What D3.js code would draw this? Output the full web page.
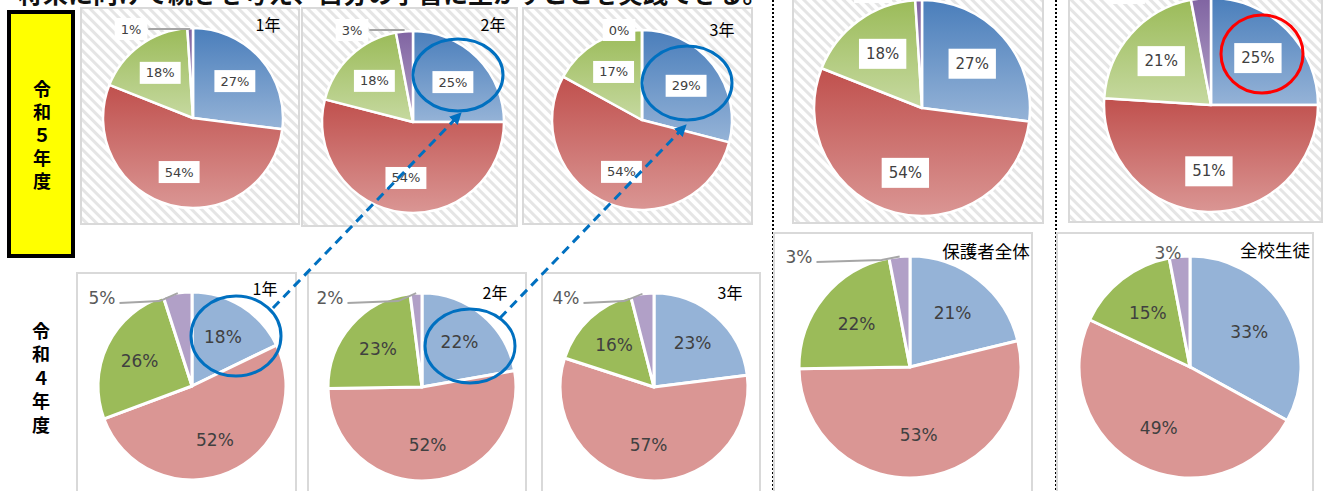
<!DOCTYPE html>
<html><head><meta charset="utf-8">
<script src="https://cdn.jsdelivr.net/npm/d3@7"></script>
<style>
html,body{margin:0;padding:0;background:#fff;overflow:hidden;}
svg{display:block;}
</style></head>
<body>
<svg id="chart" width="1330" height="491"></svg>
<script>
// ---------- DATA ----------
const answerKeys = ["回答A", "回答B", "回答C", "回答D"]; // blue, red, green, purple
const panelTitles = ["1年", "2年", "3年", "保護者全体", "全校生徒"];
const rowLabels = ["令和５年度", "令和４年度"];
const headline = "将来に向けて続きを考え、自分の学習に生かすことを実践できる。";

const r5Grade1   = [27, 54, 18, 1];
const r5Grade2   = [25, 54, 18, 3];
const r5Grade3   = [29, 54, 17, 0];
const r5Guardian = [27, 54, 18, 1];
const r5AllStud  = [25, 51, 21, 3];

const r4Grade1   = [18, 52, 26, 5];
const r4Grade2   = [22, 52, 23, 2];
const r4Grade3   = [23, 57, 16, 4];
const r4Guardian = [21, 53, 22, 3];
const r4AllStud  = [33, 49, 15, 3];

// ---------- LAYOUT / STYLE ----------
const gradColors = [["#4A7EBB", "#95B3D7"], ["#C0504D", "#DA9694"], ["#9BBB59", "#C6D9A0"], ["#8064A2", "#B3A2C7"]];
const flatColors = ["#95B3D7", "#DA9694", "#9BBB59", "#B1A0C7"];

const panels = [
  {data: r5Grade1,   title: panelTitles[0], box: [81, 8, 218, 216],  c: [193, 118], r: 90,  style: "grad", fs: 13, tfs: 16, out: {dx: -62, dy: 1, leader: true},  tpos: [268, 31]},
  {data: r5Grade2,   title: panelTitles[1], box: [302, 8, 215, 218], c: [413, 122], r: 91,  style: "grad", fs: 13, tfs: 16, out: {dx: -61, dy: -1, leader: true}, tpos: [493, 31], ell: {dx: 45, dy: -47, rx: 45, ry: 36, color: "#0070C0"}},
  {data: r5Grade3,   title: panelTitles[2], box: [523, 8, 229, 216], c: [642, 120], r: 90,  style: "grad", fs: 13, tfs: 16, out: {dx: -23, dy: 0, leader: false}, tpos: [722, 36], ell: {dx: 45, dy: -37, rx: 45, ry: 37, color: "#0070C0"}},
  {data: r5Guardian, title: null,           box: [793, -5, 250, 228], c: [922, 108], r: 108, style: "grad", fs: 15, out: {dx: -49, dy: -12, leader: false}},
  {data: r5AllStud,  title: null,           box: [1069, -5, 253, 227], c: [1211, 105], r: 107, style: "grad", fs: 15, out: {dx: -85, dy: -9, leader: false}, ell: {dx: 51, dy: -51, rx: 41, ry: 39, color: "#FF0000"}},
  {data: r4Grade1,   title: panelTitles[0], box: [77, 273, 219, 230], c: [192, 386], r: 94,  style: "flat", fs: 17, tfs: 16, out: {dx: -90, dy: 6, leader: true},  tpos: [265, 295], ell: {dx: 44, dy: -50, rx: 45, ry: 40, color: "#0070C0"}},
  {data: r4Grade2,   title: panelTitles[1], box: [308, 273, 218, 230], c: [422, 387], r: 94, style: "flat", fs: 17, tfs: 16, out: {dx: -92, dy: 5, leader: true},  tpos: [495, 299], ell: {dx: 48, dy: -41, rx: 45, ry: 37, color: "#0070C0"}},
  {data: r4Grade3,   title: panelTitles[2], box: [542, 273, 218, 230], c: [654, 387], r: 94, style: "flat", fs: 17, tfs: 16, out: {dx: -88, dy: 5, leader: true},  tpos: [730, 299]},
  {data: r4Guardian, title: panelTitles[3], box: [774, 233, 258, 270], c: [910, 367], r: 111, style: "flat", fs: 17, tfs: 17.5, out: {dx: -111, dy: 1, leader: true}, tpos: [986, 258]},
  {data: r4AllStud,  title: panelTitles[4], box: [1057, 233, 256, 270], c: [1190, 367], r: 111, style: "flat", fs: 17, tfs: 17.5, out: {dx: -22, dy: -3, leader: false}, tpos: [1275, 257]}
];

const arrows = [
  {from: [273, 308], to: [460, 114]},
  {from: [500, 318], to: [685, 126]}
];

// ---------- DRAW ----------
const svg = d3.select("#chart");
const defs = svg.append("defs");

const pat = defs.append("pattern").attr("id", "hatch").attr("patternUnits", "userSpaceOnUse")
  .attr("width", 7).attr("height", 7).attr("patternTransform", "rotate(-45)");
pat.append("rect").attr("width", 7).attr("height", 7).attr("fill", "#ffffff");
pat.append("rect").attr("width", 3).attr("height", 7).attr("fill", "#E5E5E5");

gradColors.forEach((gc, i) => {
  const g = defs.append("linearGradient").attr("id", "grad" + i)
    .attr("x1", 0).attr("y1", 0).attr("x2", 0).attr("y2", 1);
  g.append("stop").attr("offset", "0%").attr("stop-color", gc[0]);
  g.append("stop").attr("offset", "100%").attr("stop-color", gc[1]);
});

const mk = defs.append("marker").attr("id", "arrowhead").attr("viewBox", "0 0 10 10")
  .attr("refX", 8).attr("refY", 5).attr("markerWidth", 4).attr("markerHeight", 4)
  .attr("orient", "auto-start-reverse").attr("markerUnits", "strokeWidth");
mk.append("path").attr("d", "M0,0 L10,5 L0,10 Z").attr("fill", "#0070C0");

// headline (clipped at top edge, as in the reference)
svg.append("text").attr("x", 18).attr("y", 3)
  .attr("font-family", "'Noto Sans CJK JP', sans-serif").attr("font-size", 25).attr("font-weight", 700)
  .attr("fill", "#111").text(headline);

// dotted separators
const sepScale = d3.scaleLinear().domain([0, 1]).range([0, 491]);
[773, 1056].forEach(x => {
  svg.append("line").attr("x1", x).attr("x2", x).attr("y1", sepScale(0)).attr("y2", sepScale(1))
    .attr("stroke", "#000").attr("stroke-width", 2).attr("stroke-dasharray", "2,2");
});

// row label box
svg.append("rect").attr("x", 9).attr("y", 12).attr("width", 64).attr("height", 244)
  .attr("fill", "#FFFF00").attr("stroke", "#000").attr("stroke-width", 4);

function verticalText(str, x, yTop, spacing) {
  svg.append("text").attr("x", x).attr("y", yTop)
    .style("writing-mode", "vertical-rl").style("text-orientation", "upright")
    .style("letter-spacing", spacing + "px")
    .attr("font-family", "'Noto Sans CJK JP', sans-serif").attr("font-weight", 700).attr("font-size", 18)
    .attr("fill", "#000").text(str);
}
verticalText(rowLabels[0], 42, 80, 5);
verticalText(rowLabels[1], 41, 322, 5.5);

const pie = d3.pie().sort(null).value(d => d);

panels.forEach((p) => {
  const g = svg.append("g");
  const [bx, by, bw, bh] = p.box;
  g.append("rect").attr("x", bx).attr("y", by).attr("width", bw).attr("height", bh)
    .attr("fill", p.style === "grad" ? "url(#hatch)" : "#ffffff")
    .attr("stroke", "#D9D9D9").attr("stroke-width", 2);

  const arcs = pie(p.data);
  const arc = d3.arc().innerRadius(0).outerRadius(p.r);
  const lblArc = d3.arc().innerRadius(p.r * 0.62).outerRadius(p.r * 0.62);
  const cg = g.append("g").attr("transform", `translate(${p.c[0]},${p.c[1]})`);

  cg.selectAll("path").data(arcs).join("path")
    .attr("d", arc)
    .attr("fill", (d, i) => p.style === "grad" ? `url(#grad${i})` : flatColors[i])
    .attr("stroke", "#fff").attr("stroke-width", p.style === "grad" ? 2.5 : 3)
    .attr("stroke-linejoin", "round");

  const isGrad = p.style === "grad";
  const font = "'DejaVu Sans', sans-serif";

  arcs.forEach((d, i) => {
    const txt = p.data[i] + "%";
    const outside = p.data[i] <= 5;
    let lx, ly;
    if (outside) {
      lx = p.out.dx;
      ly = -p.r + p.out.dy;
    } else {
      [lx, ly] = lblArc.centroid(d);
    }
    const t = cg.append("text").attr("x", lx).attr("y", ly)
      .attr("text-anchor", "middle").attr("dominant-baseline", "central")
      .attr("font-family", font).attr("font-size", p.fs)
      .attr("fill", outside && !isGrad ? "#595959" : "#404040").text(txt);
    const bb = t.node().getBBox();
    if (isGrad) {
      const padX = p.fs > 14 ? 7 : 6, padY = p.fs > 14 ? 6 : 3.5;
      cg.append("rect").attr("x", bb.x - padX).attr("y", bb.y - padY)
        .attr("width", bb.width + padX * 2).attr("height", bb.height + padY * 2)
        .attr("fill", "#fff");
      t.raise();
    }
    if (outside && p.out.leader) {
      const ang = (d.startAngle + d.endAngle) / 2;
      const ex = Math.sin(ang) * (p.r - 2), ey = -Math.cos(ang) * (p.r - 2);
      const sx = bb.x + bb.width + (isGrad ? 7 : 4);
      const sy = isGrad ? ly : ly + 5;
      const path = isGrad
        ? `M${sx},${sy} L${ex},${sy}`
        : `M${sx},${sy} L${ex - 18},${sy - 2} L${ex},${ey - 2}`;
      cg.append("path").attr("d", path).attr("fill", "none")
        .attr("stroke", "#A6A6A6").attr("stroke-width", 1.8);
    }
  });

  if (p.title) {
    g.append("text").attr("x", p.tpos[0]).attr("y", p.tpos[1])
      .attr("text-anchor", "middle")
      .attr("font-family", "'Noto Sans CJK JP', sans-serif").attr("font-size", p.tfs)
      .attr("fill", "#000").text(p.title);
  }
  if (p.ell) {
    g.append("ellipse").attr("cx", p.c[0] + p.ell.dx).attr("cy", p.c[1] + p.ell.dy)
      .attr("rx", p.ell.rx).attr("ry", p.ell.ry)
      .attr("fill", "none").attr("stroke", p.ell.color).attr("stroke-width", 3);
  }
});

arrows.forEach(a => {
  svg.append("line").attr("x1", a.from[0]).attr("y1", a.from[1]).attr("x2", a.to[0]).attr("y2", a.to[1])
    .attr("stroke", "#0070C0").attr("stroke-width", 3).attr("stroke-dasharray", "9,6")
    .attr("marker-end", "url(#arrowhead)");
});
</script>
</body></html>
